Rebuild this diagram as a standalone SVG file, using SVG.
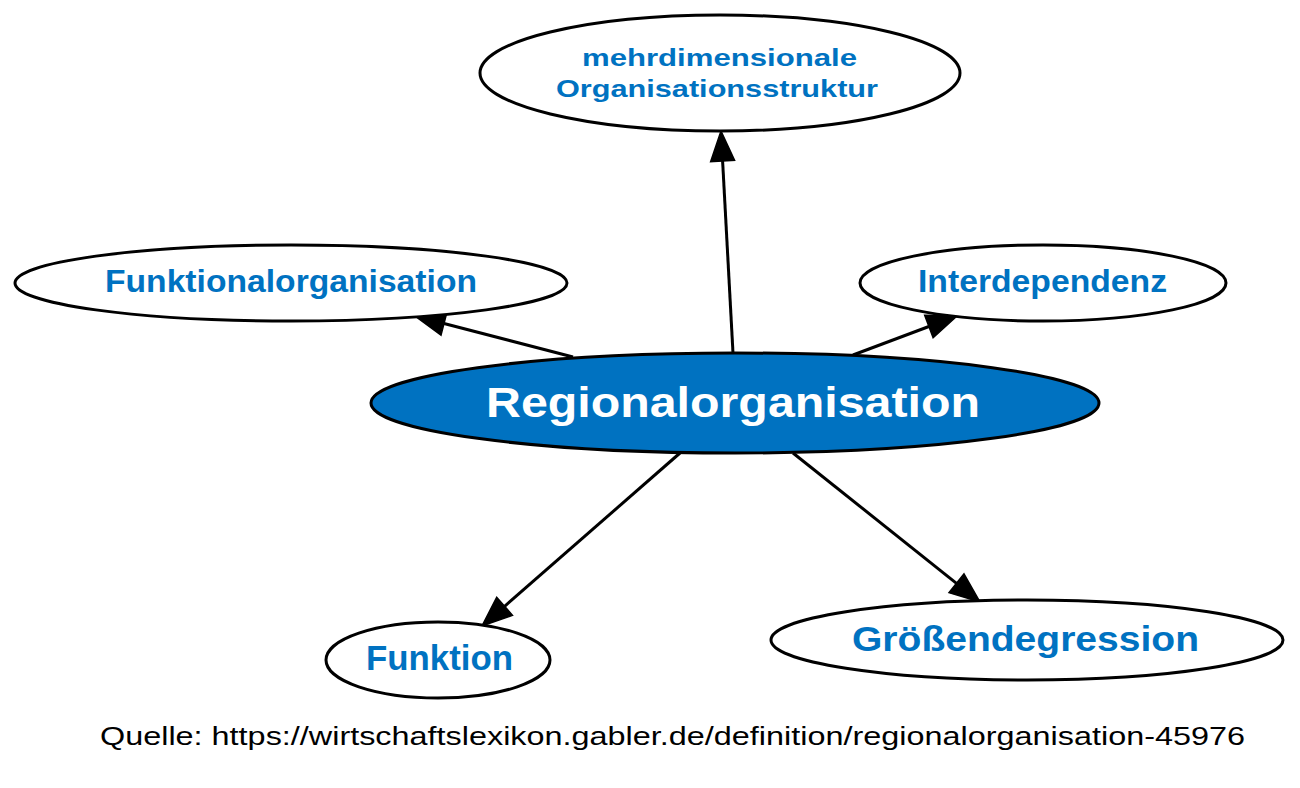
<svg xmlns="http://www.w3.org/2000/svg" width="1300" height="788" viewBox="0 0 1300 788">
<style>
.node{fill:#ffffff;stroke:#000000;stroke-width:3}
.main{fill:#0072c1;stroke:#000000;stroke-width:3}
.lbl{font-family:"Liberation Sans",Arial,sans-serif;font-weight:bold;fill:#0072c1}
.mlbl{font-family:"Liberation Sans",Arial,sans-serif;font-weight:bold;fill:#ffffff}
.edge{stroke:#000000;stroke-width:3;fill:none;marker-end:url(#arr)}
.foot{font-family:"Liberation Sans",Arial,sans-serif;fill:#000000}
</style>
<defs>
<marker id="arr" markerUnits="userSpaceOnUse" markerWidth="32" markerHeight="28" refX="0" refY="12" orient="auto" viewBox="0 -2 32 28" overflow="visible">
<path d="M0,0 L30,12 L0,24 Z" fill="#000000" stroke="#000000" stroke-width="1.5"/>
</marker>
</defs>
<rect width="1300" height="788" fill="#ffffff"/>
<g id="connectors">
<line class="edge" x1="733" y1="353" x2="722.6" y2="161"/>
<line class="edge" x1="573" y1="357" x2="444" y2="323.5"/>
<line class="edge" x1="853" y1="355" x2="928.9" y2="326.5"/>
<line class="edge" x1="680" y1="453" x2="504.6" y2="606.3"/>
<line class="edge" x1="793" y1="453" x2="956.5" y2="583.3"/>
</g>
<g id="mehrdimensionale">
<ellipse class="node" cx="720" cy="73" rx="240" ry="58"/>
<text class="lbl" x="582" y="66" font-size="24" textLength="275" lengthAdjust="spacingAndGlyphs">mehrdimensionale</text>
<text class="lbl" x="556" y="97" font-size="24" textLength="322" lengthAdjust="spacingAndGlyphs">Organisationsstruktur</text>
</g>
<g id="funktionalorganisation">
<ellipse class="node" cx="291" cy="283" rx="276" ry="38"/>
<text class="lbl" x="105" y="292" font-size="31" textLength="372" lengthAdjust="spacingAndGlyphs">Funktionalorganisation</text>
</g>
<g id="interdependenz">
<ellipse class="node" cx="1043" cy="283" rx="183" ry="38"/>
<text class="lbl" x="918" y="292" font-size="31" textLength="249" lengthAdjust="spacingAndGlyphs">Interdependenz</text>
</g>
<g id="regionalorganisation">
<ellipse class="main" cx="735" cy="403" rx="364" ry="50"/>
<text class="mlbl" x="486" y="417" font-size="43" textLength="494" lengthAdjust="spacingAndGlyphs">Regionalorganisation</text>
</g>
<g id="funktion">
<ellipse class="node" cx="438" cy="660" rx="112" ry="38"/>
<text class="lbl" x="366" y="670" font-size="35" textLength="147" lengthAdjust="spacingAndGlyphs">Funktion</text>
</g>
<g id="groessendegression">
<ellipse class="node" cx="1027" cy="640" rx="256" ry="40"/>
<text class="lbl" x="852" y="651" font-size="35" textLength="347" lengthAdjust="spacingAndGlyphs">Größendegression</text>
</g>
<text class="foot" x="100" y="745" font-size="26" textLength="1145" lengthAdjust="spacingAndGlyphs">Quelle: https://wirtschaftslexikon.gabler.de/definition/regionalorganisation-45976</text>
</svg>
